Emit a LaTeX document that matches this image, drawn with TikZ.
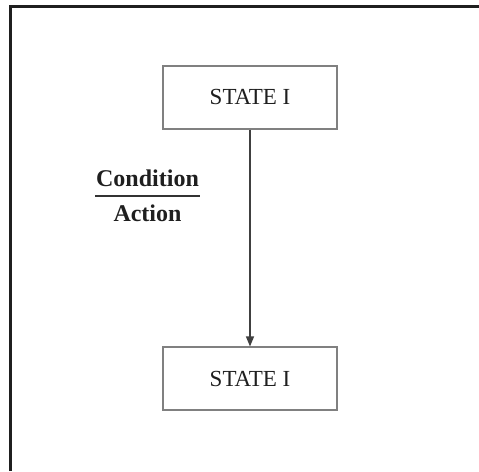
\documentclass[tikz,border=0pt]{standalone}
\usepackage{fontspec}
\setmainfont{Liberation Serif}
\usetikzlibrary{arrows.meta}
\begin{document}
\begin{tikzpicture}[x=1pt,y=1pt,
  statebox/.style={draw=black!50, line width=1.1pt, minimum width=174pt, minimum height=63pt, inner sep=0pt, font=\fontsize{23}{26}\selectfont, text=black!88},
  lbl/.style={font=\fontsize{24}{27}\selectfont\bfseries, text=black!88, inner sep=0pt},
  frame/.style={line width=3pt, draw=black!88},
  conn/.style={draw=black!75, line width=1.3pt, -{Triangle[length=10pt,width=8pt]}}]
\useasboundingbox (0,0) rectangle (479,471);
\fill[white] (0,0) rectangle (479,471);
\draw[frame] (10.5,0) -- (10.5,464.8) -- (479,464.8);
\node[statebox] (s1) at (250,373.5) {STATE I};
\node[statebox] (s2) at (250,92.5) {STATE I};
\draw[conn] (s1.south) -- (s2.north);
\node[lbl] (cond) at (147.5,293) {Condition};
\node[lbl] (act) at (147.5,257.5) {Action};
\coordinate (la) at (95,275);
\coordinate (lb) at (200,275);
\draw[line width=1.3pt, draw=black!80] (la) -- (lb);
\end{tikzpicture}
\end{document}
